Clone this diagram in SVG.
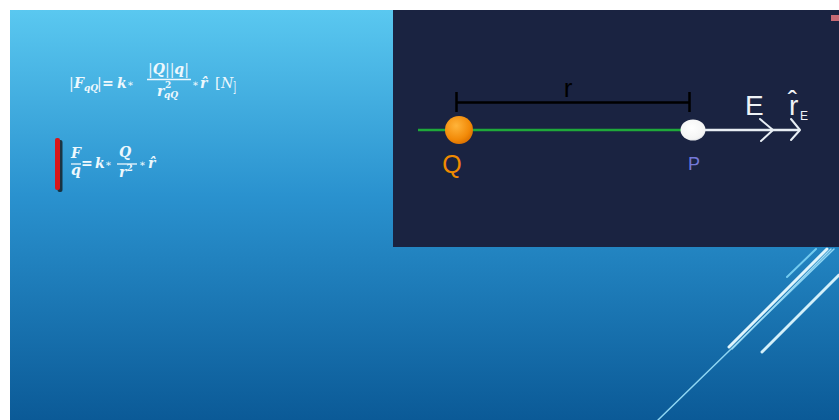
<svg xmlns="http://www.w3.org/2000/svg" width="839" height="420" viewBox="0 0 839 420">
<defs>
<linearGradient id="bg" x1="0" y1="0" x2="0" y2="1">
<stop offset="0" stop-color="#5ac8f0"/>
<stop offset="0.45" stop-color="#2a92cf"/>
<stop offset="1" stop-color="#0b5a97"/>
</linearGradient>
<radialGradient id="qg" cx="0.4" cy="0.35" r="0.7">
<stop offset="0" stop-color="#ffb43a"/>
<stop offset="0.7" stop-color="#f28a08"/>
<stop offset="1" stop-color="#d86e00"/>
</radialGradient>
<radialGradient id="pg" cx="0.45" cy="0.4" r="0.7">
<stop offset="0" stop-color="#ffffff"/>
<stop offset="0.75" stop-color="#f4f4f4"/>
<stop offset="1" stop-color="#c8ccd6"/>
</radialGradient>
</defs>
<style>
.m{font-family:"DejaVu Serif","Liberation Serif",serif;fill:#eef8fd;font-size:14px;font-weight:bold}
.i{font-style:italic}
.s{font-size:9px}
.a{font-size:10px;font-weight:normal}
.fl{stroke:#eef8fd;stroke-width:1.3}
.sans{font-family:"Liberation Sans","DejaVu Sans",Arial,sans-serif}
.arw{fill:none;stroke:#e8eef4;stroke-width:2;stroke-linecap:round;stroke-linejoin:round}
.dl{stroke-linecap:round}
</style>
<rect x="0" y="0" width="839" height="420" fill="#ffffff"/>
<rect x="10" y="10" width="829" height="410" fill="url(#bg)"/>

<g id="deco-lines">
<line class="dl" x1="658" y1="420" x2="834" y2="249" stroke="#8fd6f3" stroke-width="1.5"/>
<line class="dl" x1="729" y1="347" x2="827" y2="249" stroke="#e0f5fc" stroke-width="3"/>
<line class="dl" x1="732" y1="349" x2="831" y2="249" stroke="#9edcf5" stroke-width="1.5"/>
<line class="dl" x1="762" y1="352" x2="839" y2="275" stroke="#d4f0fa" stroke-width="3"/>
<line class="dl" x1="787" y1="277" x2="816" y2="249" stroke="#74ccf0" stroke-width="2"/>
</g>

<g id="formula1">
<text class="m" y="88"><tspan x="69" style="font-weight:normal">|</tspan><tspan class="i" x="74">F</tspan><tspan class="i s" x="84" dy="3">qQ</tspan><tspan x="97" dy="-3" style="font-weight:normal">|</tspan><tspan x="102">=</tspan><tspan class="i" x="117">k</tspan><tspan class="a" x="127" dy="-1">∗</tspan></text>
<text class="m" x="148" y="74"><tspan style="font-weight:normal">|</tspan><tspan class="i">Q</tspan><tspan style="font-weight:normal">||</tspan><tspan class="i">q</tspan><tspan style="font-weight:normal">|</tspan></text>
<line class="fl" x1="147" y1="79.5" x2="191" y2="79.5"/>
<text class="m i" x="157" y="96">r<tspan class="s" style="font-style:normal" x="165" dy="-8">2</tspan><tspan class="s" x="164" dy="10">qQ</tspan></text>
<text class="m" y="88"><tspan class="a" x="192" dy="-1">∗</tspan><tspan class="i" x="200" dy="1">r̂</tspan><tspan x="215" style="font-weight:normal">[</tspan><tspan class="i" x="221" style="font-weight:normal">N</tspan></text>
<text class="m" transform="translate(233,92) scale(0.55,1)" font-size="38" style="font-weight:normal">]</text>
</g>

<g id="formula2">
<rect x="57.5" y="140" width="5" height="52" rx="2" fill="#111111" opacity="0.75"/>
<rect x="55" y="138" width="5" height="52" rx="2" fill="#d8161a"/>
<text class="m i" x="71" y="158" font-size="15">F</text>
<line class="fl" x1="71" y1="164" x2="81" y2="164"/>
<text class="m i" x="71" y="175" font-size="15">q</text>
<text class="m" y="168" font-size="15"><tspan x="81">=</tspan><tspan class="i" x="95">k</tspan><tspan class="a" x="105" dy="-1">∗</tspan></text>
<text class="m i" x="119" y="157" font-size="15">Q</text>
<line class="fl" x1="117" y1="164" x2="137" y2="164"/>
<text class="m i" x="119" y="177" font-size="15">r<tspan class="s" style="font-style:normal" dy="-6">2</tspan></text>
<text class="m" y="168" font-size="15"><tspan class="a" x="139" dy="-1">∗</tspan><tspan class="i" x="148" dy="1">r̂</tspan></text>
</g>

<g id="panel">
<rect x="393" y="10" width="446" height="237" fill="#1a2341"/>
<rect x="831" y="15" width="8" height="6" fill="#c86a74"/>
</g>

<g id="connectors">
<line x1="418" y1="130" x2="690" y2="130" stroke="#1fa83a" stroke-width="2.5"/>
<line x1="693" y1="130" x2="800" y2="130" stroke="#e8eef4" stroke-width="2.5"/>
<polyline class="arw" points="760,119 773,130 761,141"/>
<polyline class="arw" points="791,119 800,130 791,140"/>
<g id="dimension-r">
<line x1="456" y1="102.5" x2="690" y2="102.5" stroke="#000000" stroke-width="2.5"/>
<line x1="456.5" y1="92" x2="456.5" y2="112" stroke="#000000" stroke-width="2.5"/>
<line x1="689.5" y1="92" x2="689.5" y2="112" stroke="#000000" stroke-width="2.5"/>
<text class="sans" x="568" y="97" font-size="26" fill="#000000" text-anchor="middle">r</text>
</g>
</g>

<g id="node-Q">
<circle cx="459" cy="130" r="14" fill="url(#qg)"/>
<text class="sans" x="452" y="173" font-size="25" fill="#f08a00" text-anchor="middle">Q</text>
</g>

<g id="node-P">
<ellipse cx="693" cy="130" rx="12.5" ry="10.5" fill="url(#pg)"/>
<text class="sans" x="694" y="170" font-size="18" fill="#7378d8" text-anchor="middle">P</text>
</g>

<g id="label-E">
<text class="sans" x="745" y="115" font-size="28" fill="#eef2f6">E</text>
</g>

<g id="label-rE">
<text class="sans" x="789" y="115" font-size="28" fill="#eef2f6">r̂<tspan font-size="12" x="800" dy="5">E</tspan></text>
</g>
</svg>
